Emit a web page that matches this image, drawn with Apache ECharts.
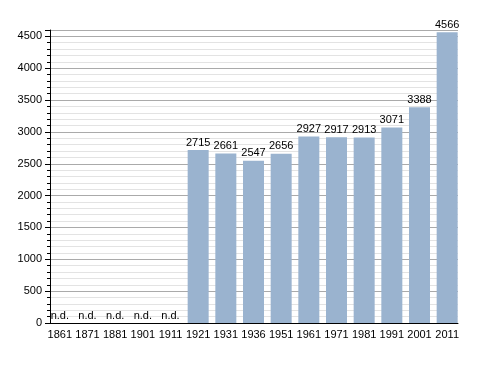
<!DOCTYPE html>
<html><head><meta charset="utf-8">
<script src="https://cdn.jsdelivr.net/npm/echarts@6/dist/echarts.min.js"></script>
<style>html,body{margin:0;padding:0;background:#fff}#c{width:488px;height:373px}</style>
</head><body><div id="c"></div>
<script>
const categories = ['1861','1871','1881','1901','1911','1921','1931','1936','1951','1961','1971','1981','1991','2001','2011'];
const values = [null,null,null,null,null,2715,2661,2547,2656,2927,2917,2913,3071,3388,4566];
const missingLabel = 'n.d.';
const yTicks = [0,500,1000,1500,2000,2500,3000,3500,4000,4500];

const font = 'Liberation Sans, Arial, sans-serif';
const chart = echarts.init(document.getElementById('c'), null, {renderer:'canvas'});
chart.setOption({
  animation:false,
  grid:[{left:50,right:30,top:30,bottom:50},{left:46,right:27,top:30,bottom:50}],
  xAxis:[
    {type:'category',gridIndex:0,data:categories,
      axisLine:{lineStyle:{color:'#000',width:1}},
      axisTick:{show:false},axisLabel:{show:false}},
    {type:'category',gridIndex:1,data:categories,
      axisLine:{show:false},axisTick:{show:false},
      axisLabel:{color:'#000',fontFamily:font,fontSize:11,margin:6,interval:0}}],
  yAxis:[
    {type:'value',gridIndex:0,min:0,max:4600,interval:500,
      axisLine:{show:true,lineStyle:{color:'#000',width:1}},
      axisTick:{show:true,length:5,lineStyle:{color:'#000'}},
      minorTick:{show:true,splitNumber:5,length:3,lineStyle:{color:'#000'}},
      splitLine:{show:true,lineStyle:{color:'#aaa',width:1}},
      minorSplitLine:{show:true,lineStyle:{color:'#e3e3e3',width:1}},
      axisLabel:{color:'#000',fontFamily:font,fontSize:11,margin:8,
        formatter:v=>yTicks.includes(v)?String(v):''}},
    {type:'value',gridIndex:1,min:0,max:4600,interval:500,show:false,splitLine:{show:false}}],
  series:[{type:'bar',xAxisIndex:1,yAxisIndex:1,barWidth:21,
    itemStyle:{color:'#9ab3cf'},
    label:{show:true,position:'top',distance:2,color:'#000',fontFamily:font,fontSize:11},
    data:values.map(v=>v===null?{value:0,label:{formatter:missingLabel}}:v)}]
});
</script></body></html>
